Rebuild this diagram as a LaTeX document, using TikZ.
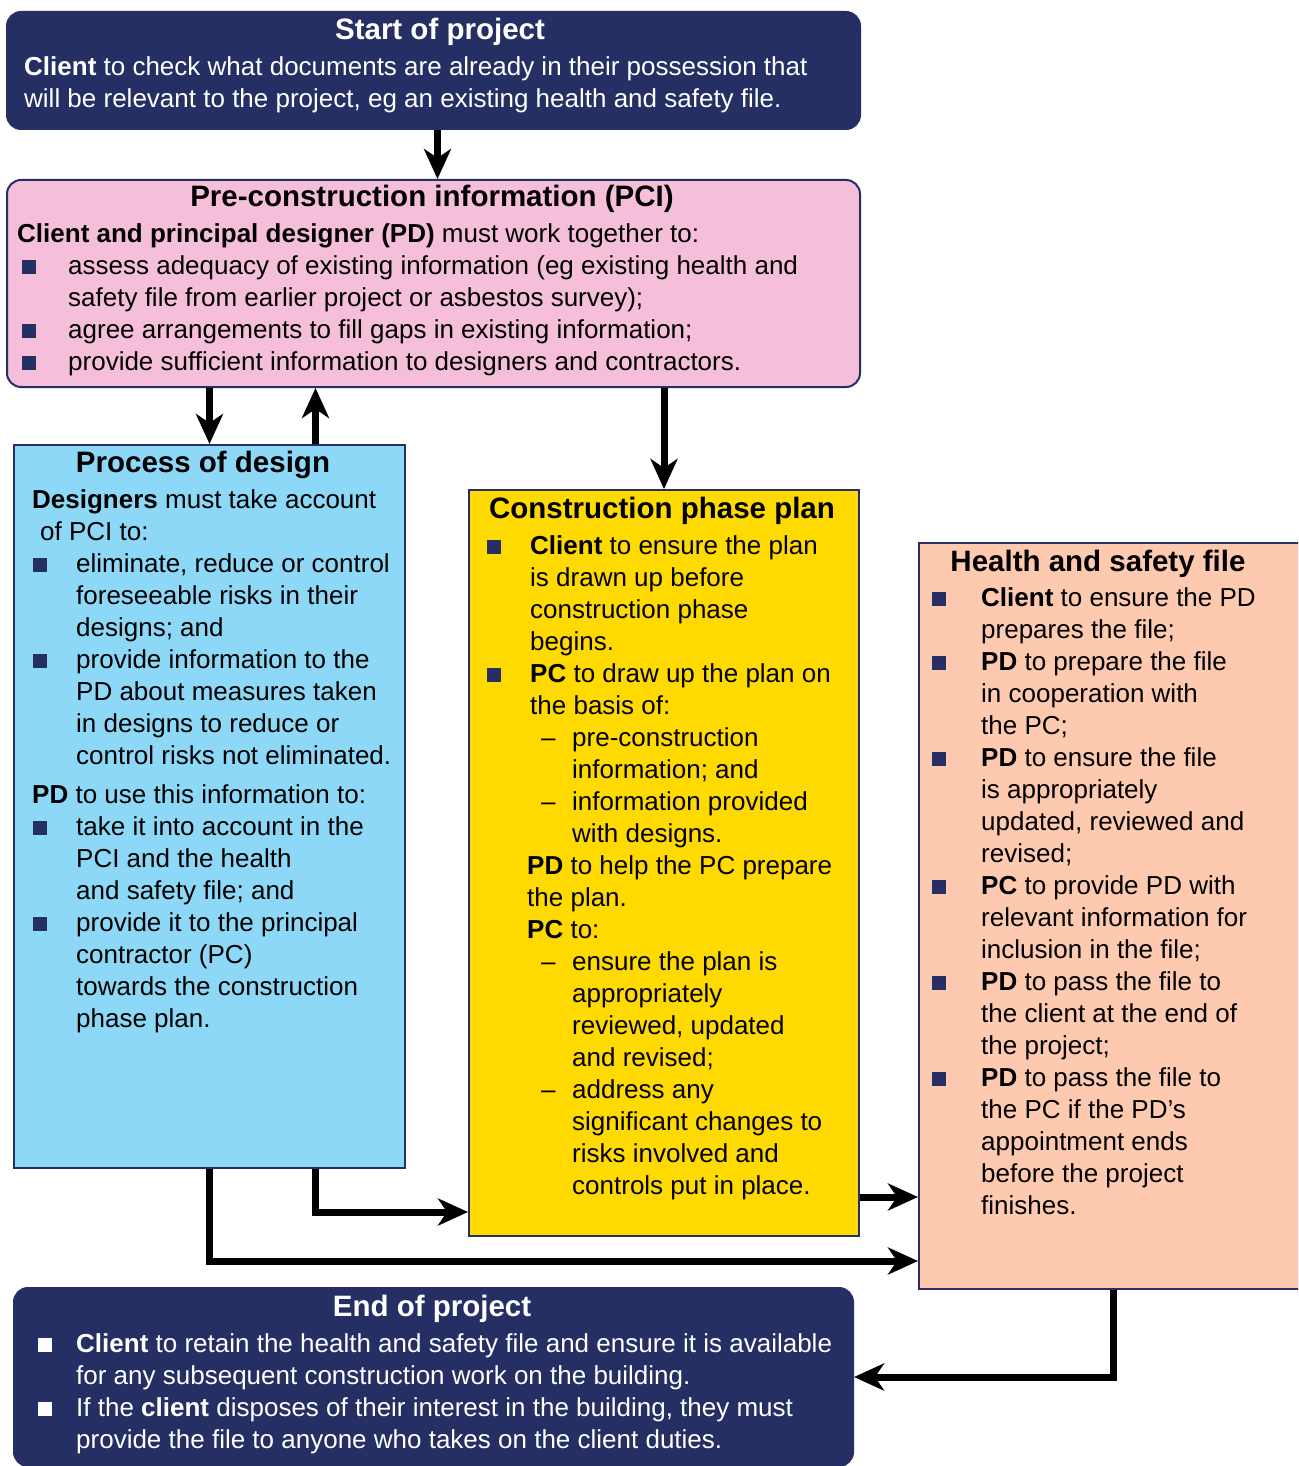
\documentclass[tikz,border=0pt]{standalone}
\usepackage{fontspec}
\setmainfont{Liberation Sans}
\usetikzlibrary{arrows.meta}

\definecolor{hsenavy}{RGB}{37,47,99}
\definecolor{pcipink}{RGB}{246,191,217}
\definecolor{designblue}{RGB}{141,216,247}
\definecolor{planyellow}{RGB}{255,218,0}
\definecolor{filepeach}{RGB}{253,202,176}
\colorlet{bulletcol}{hsenavy}

\newcommand{\bodyfont}{\fontsize{26}{32}\selectfont}
\newcommand{\headfont}{\fontsize{29.5}{32}\selectfont\bfseries}
\newcommand{\sqmark}{\textcolor{bulletcol}{\rule{14pt}{14pt}}}
% square bullet: [shift]{gap to text}{lines}
\newcommand{\sqitem}[3][0pt]{\noindent\hangindent=\dimexpr#1+#2\relax\hangafter=1%
    \hspace*{#1}\makebox[#2][l]{\sqmark}#3\par}
\newcommand{\dashitem}[2]{\noindent\hangindent=\dimexpr#1+31pt\relax\hangafter=1%
    \hspace*{#1}\makebox[31pt][l]{--}#2\par}
\newcommand{\plainitem}[2]{\noindent\hangindent=#1\hangafter=0 #2\par}
\newenvironment{panelbody}{\begin{minipage}[t]{880pt}\bodyfont}{\end{minipage}}

\begin{document}
\begin{tikzpicture}
    [x=1pt,y=-1pt,
     panel/.style={draw=hsenavy,line width=2pt,anchor=north west,inner sep=0pt},
     heading/.style={anchor=base,inner sep=0pt,font=\headfont},
     body/.style={anchor=base west,inner sep=0pt,font=\bodyfont},
     flow/.style={line width=7pt,-{Stealth[length=30pt,width=27pt,inset=9pt]}}]
    \clip (0,0) rectangle (1298,1466);

    % boxes
    \node[panel,fill=hsenavy,rounded corners=14pt,minimum width=853pt,minimum height=117pt] (startproj) at (6,11) {};
    \node[panel,fill=pcipink,rounded corners=14pt,minimum width=853pt,minimum height=207pt] (pci) at (6,179) {};
    \node[panel,fill=designblue,minimum width=391pt,minimum height=723pt] (design) at (13,444) {};
    \node[panel,fill=planyellow,minimum width=390pt,minimum height=746pt] (cpp) at (468,489) {};
    \node[panel,fill=filepeach,minimum width=388pt,minimum height=746pt] (hsf) at (918,542) {};
    \node[panel,fill=hsenavy,rounded corners=14pt,minimum width=839pt,minimum height=178pt] (endproj) at (13,1287) {};

    % start
    \node[heading,text=white] (starttitle) at (440,40) {Start of project};
    \node[body,text=white] (starttext) at (24,76)
        {\begin{panelbody}
         \textbf{Client} to check what documents are already in their possession that\\
         will be relevant to the project, eg an existing health and safety file.
         \end{panelbody}};

    % pre-construction information
    \node[heading] (pcititle) at (432,206) {Pre-construction information (PCI)};
    \node[body] (pcitext) at (17,242)
        {\begin{panelbody}
         \plainitem{0pt}{\textbf{Client and principal designer (PD)} must work together to:}
         \sqitem[5pt]{46pt}{assess adequacy of existing information (eg existing health and\\safety file from earlier project or asbestos survey);}
         \sqitem[5pt]{46pt}{agree arrangements to fill gaps in existing information;}
         \sqitem[5pt]{46pt}{provide sufficient information to designers and contractors.}
         \end{panelbody}};

    % process of design
    \node[heading] (designtitle) at (203,472) {Process of design};
    \node[body] (designtext) at (32,508)
        {\begin{panelbody}
         \plainitem{0pt}{\textbf{Designers} must take account\\\hspace*{8pt}of PCI to:}
         \sqitem[1pt]{43pt}{eliminate, reduce or control\\foreseeable risks in their\\designs; and}
         \sqitem[1pt]{43pt}{provide information to the\\PD about measures taken\\in designs to reduce or\\control risks not eliminated.}
         \vspace{7pt}
         \plainitem{0pt}{\textbf{PD} to use this information to:}
         \sqitem[1pt]{43pt}{take it into account in the\\PCI and the health\\and safety file; and}
         \sqitem[1pt]{43pt}{provide it to the principal\\contractor (PC)\\towards the construction\\phase plan.}
         \end{panelbody}};

    % construction phase plan
    \node[heading] (cpptitle) at (662,518) {Construction phase plan};
    \node[body] (cpptext) at (487,554)
        {\begin{panelbody}
         \sqitem{43pt}{\textbf{Client} to ensure the plan\\is drawn up before\\construction phase\\begins.}
         \sqitem{43pt}{\textbf{PC} to draw up the plan on\\the basis of:}
         \dashitem{54pt}{pre-construction\\information; and}
         \dashitem{54pt}{information provided\\with designs.}
         \plainitem{40pt}{\textbf{PD} to help the PC prepare\\the plan.}
         \plainitem{40pt}{\textbf{PC} to:}
         \dashitem{54pt}{ensure the plan is\\appropriately\\reviewed, updated\\and revised;}
         \dashitem{54pt}{address any\\significant changes to\\risks involved and\\controls put in place.}
         \end{panelbody}};

    % health and safety file
    \node[heading] (hsftitle) at (1098,571) {Health and safety file};
    \node[body] (hsftext) at (932,606)
        {\begin{panelbody}
         \sqitem{49pt}{\textbf{Client} to ensure the PD\\prepares the file;}
         \sqitem{49pt}{\textbf{PD} to prepare the file\\in cooperation with\\the PC;}
         \sqitem{49pt}{\textbf{PD} to ensure the file\\is appropriately\\updated, reviewed and\\revised;}
         \sqitem{49pt}{\textbf{PC} to provide PD with\\relevant information for\\inclusion in the file;}
         \sqitem{49pt}{\textbf{PD} to pass the file to\\the client at the end of\\the project;}
         \sqitem{49pt}{\textbf{PD} to pass the file to\\the PC if the PD’s\\appointment ends\\before the project\\finishes.}
         \end{panelbody}};

    % end
    \node[heading,text=white] (endtitle) at (432,1316) {End of project};
    \node[body,text=white] (endtext) at (38,1352)
        {\begin{panelbody}\colorlet{bulletcol}{white}%
         \sqitem{38pt}{\textbf{Client} to retain the health and safety file and ensure it is available\\for any subsequent construction work on the building.}
         \sqitem{38pt}{If the \textbf{client} disposes of their interest in the building, they must\\provide the file to anyone who takes on the client duties.}
         \end{panelbody}};

    % connectors
    \coordinate (designup) at ([xshift=106pt]design.north);
    \coordinate (cpphsf) at ([yshift=40pt]cpp.south east);
    \draw[flow] ([xshift=4pt]startproj.south) -- ([xshift=4pt]pci.north);
    \draw[flow] (pci.south -| design.north) -- (design.north);
    \draw[flow] (designup) -- (designup |- pci.south);
    \draw[flow] (pci.south -| cpp.north) -- (cpp.north);
    \draw[flow] (designup |- design.south) |- ([yshift=25pt]cpp.south west);
    \draw[flow] (design.south) |- ([yshift=29pt]hsf.south west);
    \draw[flow] (cpphsf) -- (cpphsf -| hsf.west);
    \draw[flow] (hsf.south) |- (endproj.east);
\end{tikzpicture}
\end{document}
